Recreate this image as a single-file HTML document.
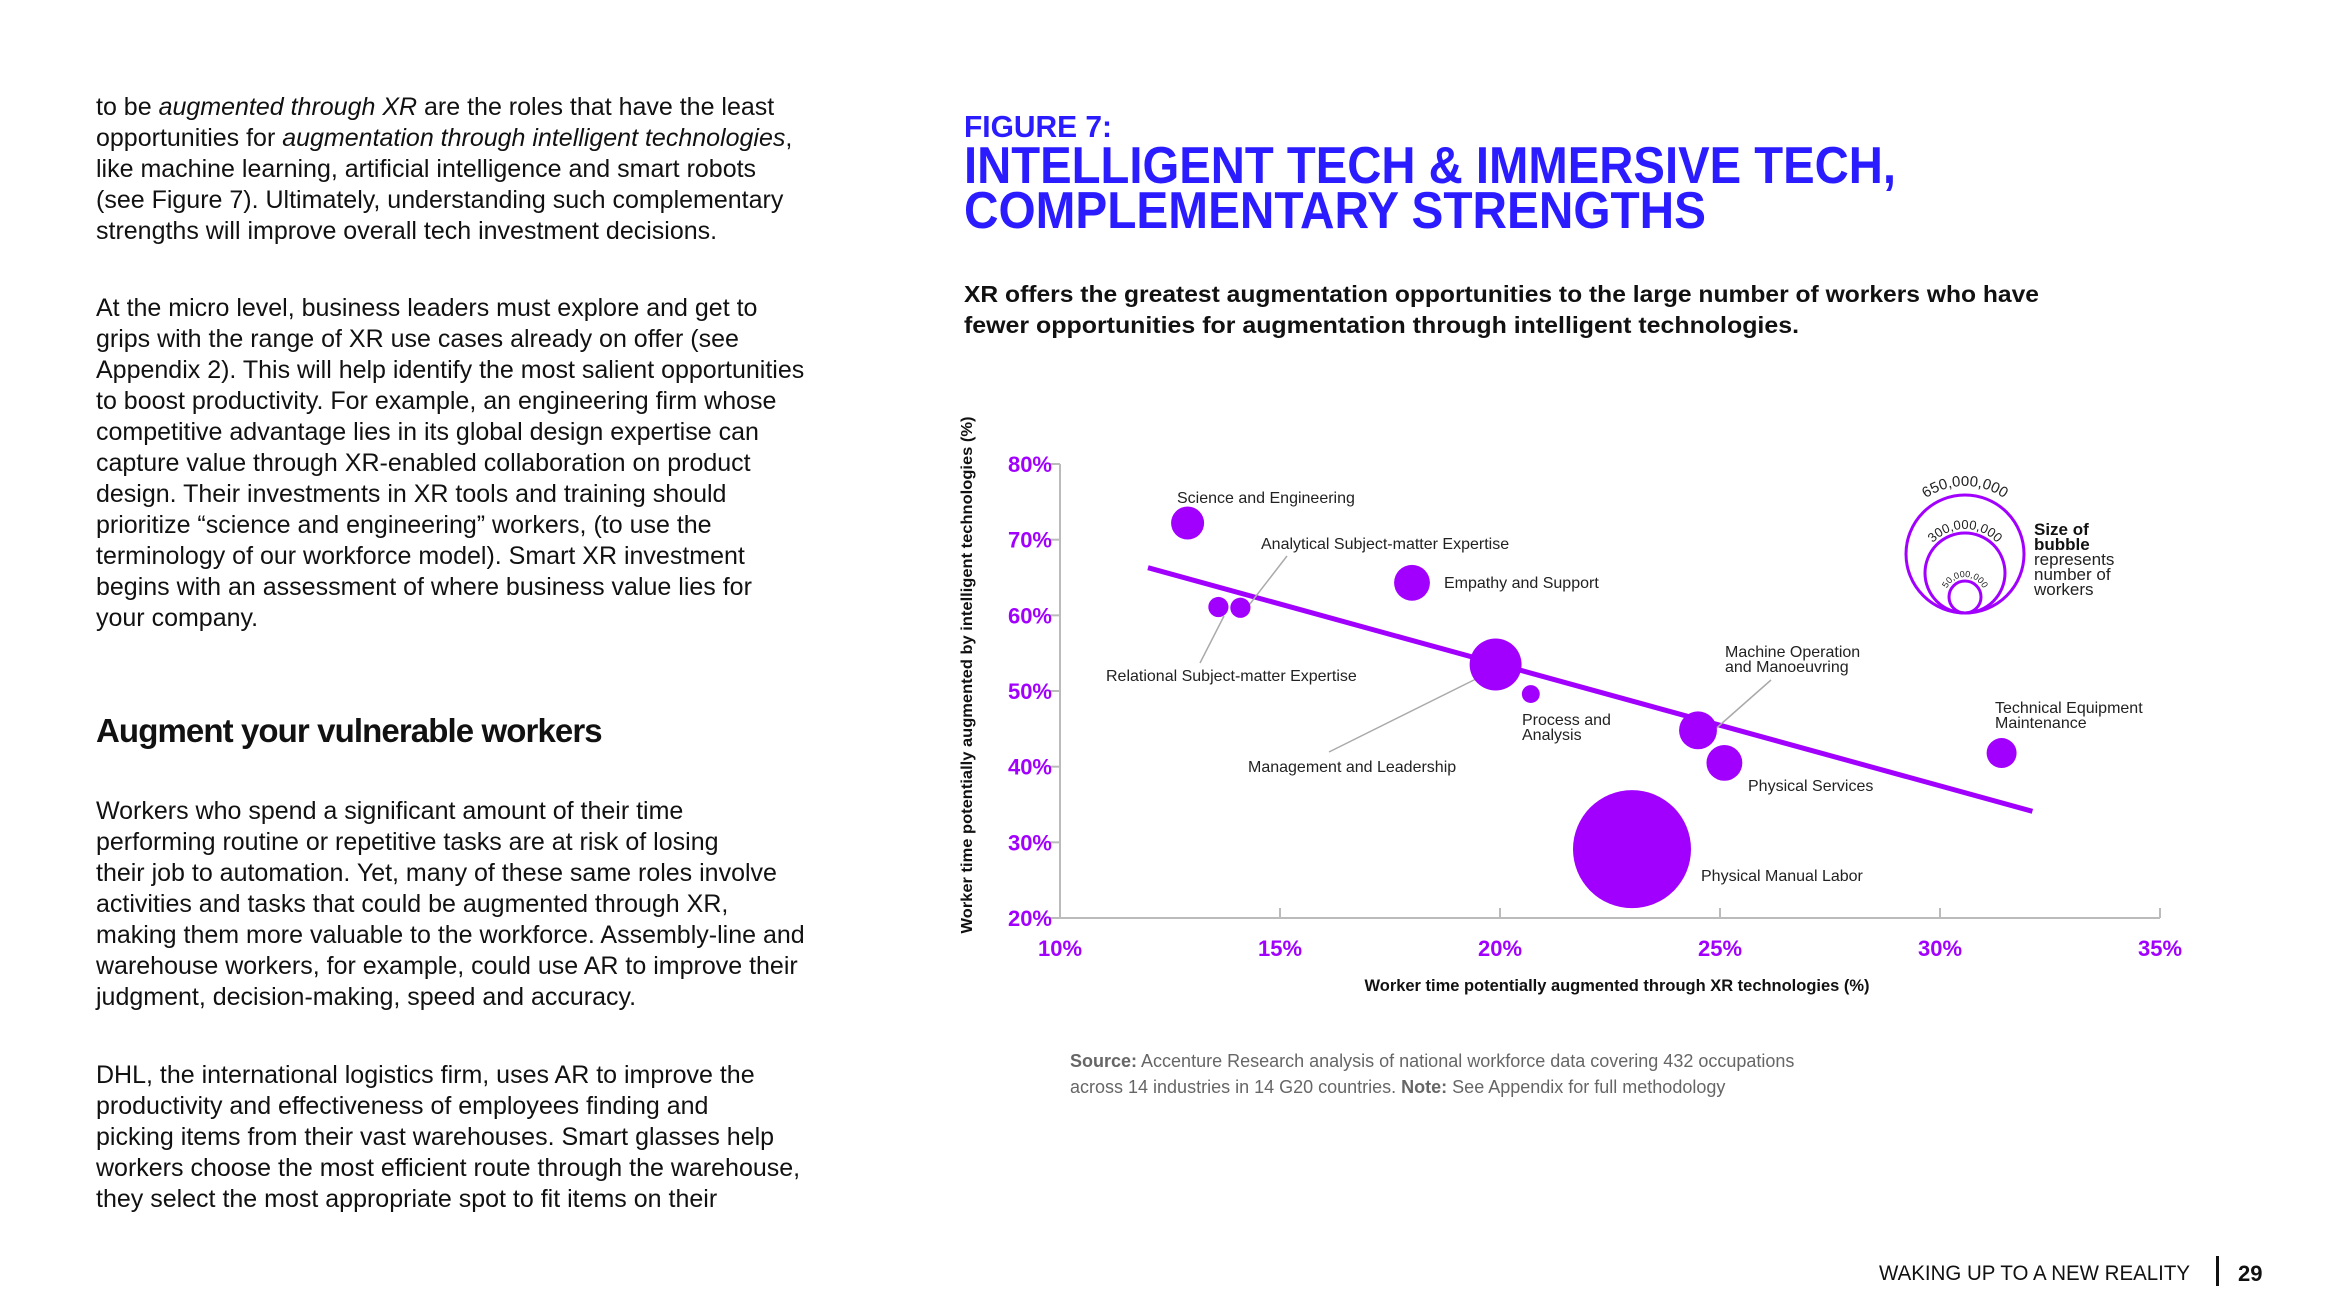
<!DOCTYPE html>
<html><head><meta charset="utf-8">
<style>
html,body{margin:0;padding:0;background:#fff;}
body{width:2339px;height:1315px;position:relative;overflow:hidden;font-family:"Liberation Sans",sans-serif;color:#111;}
.p{position:absolute;left:96px;font-size:25px;line-height:31px;letter-spacing:0px;white-space:nowrap;}
.h{position:absolute;left:96px;top:711px;font-size:33px;line-height:40px;font-weight:bold;letter-spacing:-0.9px;}
svg{position:absolute;left:0;top:0;}
</style></head>
<body>
<div class="p" style="top:92px">to be <i>augmented through XR</i> are the roles that have the least<br>opportunities for <i>augmentation through intelligent technologies</i>,<br>like machine learning, artificial intelligence and smart robots<br>(see Figure 7). Ultimately, understanding such complementary<br>strengths will improve overall tech investment decisions.</div>
<div class="p" style="top:293px">At the micro level, business leaders must explore and get to<br>grips with the range of XR use cases already on offer (see<br>Appendix 2). This will help identify the most salient opportunities<br>to boost productivity. For example, an engineering firm whose<br>competitive advantage lies in its global design expertise can<br>capture value through XR-enabled collaboration on product<br>design. Their investments in XR tools and training should<br>prioritize “science and engineering” workers, (to use the<br>terminology of our workforce model). Smart XR investment<br>begins with an assessment of where business value lies for<br>your company.</div>
<div class="h">Augment your vulnerable workers</div>
<div class="p" style="top:796px">Workers who spend a significant amount of their time<br>performing routine or repetitive tasks are at risk of losing<br>their job to automation. Yet, many of these same roles involve<br>activities and tasks that could be augmented through XR,<br>making them more valuable to the workforce. Assembly-line and<br>warehouse workers, for example, could use AR to improve their<br>judgment, decision-making, speed and accuracy.</div>
<div class="p" style="top:1060px">DHL, the international logistics firm, uses AR to improve the<br>productivity and effectiveness of employees finding and<br>picking items from their vast warehouses. Smart glasses help<br>workers choose the most efficient route through the warehouse,<br>they select the most appropriate spot to fit items on their</div>

<svg id="chart" width="2339" height="1315" xmlns="http://www.w3.org/2000/svg" font-family="Liberation Sans, sans-serif">
<defs>
<path id="arc650" d="M1897,554 a68,68 0 0 1 136,0" fill="none"/>
<path id="arc300" d="M1921,573 a44,44 0 0 1 88,0" fill="none"/>
<path id="arc50" d="M1945,597 a20,20 0 0 1 40,0" fill="none"/>
</defs>
<text x="964" y="137" font-size="31" font-weight="bold" fill="#2a1cff" textLength="148" lengthAdjust="spacingAndGlyphs">FIGURE 7:</text>
<text x="964" y="183" font-size="52" font-weight="bold" fill="#2a1cff" textLength="932" lengthAdjust="spacingAndGlyphs">INTELLIGENT TECH &amp; IMMERSIVE TECH,</text>
<text x="964" y="228" font-size="52" font-weight="bold" fill="#2a1cff" textLength="742" lengthAdjust="spacingAndGlyphs">COMPLEMENTARY STRENGTHS</text>
<text x="964" y="302" font-size="23" font-weight="bold" fill="#111" textLength="1075" lengthAdjust="spacingAndGlyphs">XR offers the greatest augmentation opportunities to the large number of workers who have</text>
<text x="964" y="333" font-size="23" font-weight="bold" fill="#111" textLength="835" lengthAdjust="spacingAndGlyphs">fewer opportunities for augmentation through intelligent technologies.</text>
<g id="plot"></g>
<g>
<circle cx="1965" cy="554" r="59" fill="none" stroke="#a100ff" stroke-width="3"/>
<circle cx="1965" cy="573" r="40" fill="none" stroke="#a100ff" stroke-width="3"/>
<circle cx="1965" cy="597" r="16" fill="none" stroke="#a100ff" stroke-width="3"/>
<text font-size="15" fill="#222"><textPath href="#arc650" startOffset="50%" text-anchor="middle">650,000,000</textPath></text>
<text font-size="13" fill="#222"><textPath href="#arc300" startOffset="50%" text-anchor="middle">300,000,000</textPath></text>
<text font-size="9" fill="#222"><textPath href="#arc50" startOffset="50%" text-anchor="middle">50,000,000</textPath></text>
<text x="2034" y="535" font-size="17" font-weight="bold" fill="#111"><tspan x="2034">Size of</tspan><tspan x="2034" dy="15">bubble</tspan></text>
<text x="2034" y="565" font-size="17" fill="#222"><tspan x="2034">represents</tspan><tspan x="2034" dy="15">number of</tspan><tspan x="2034" dy="15">workers</tspan></text>
</g>
<text x="1070" y="1067" font-size="18" fill="#666"><tspan font-weight="bold">Source:</tspan> Accenture Research analysis of national workforce data covering 432 occupations</text>
<text x="1070" y="1093" font-size="18" fill="#666">across 14 industries in 14 G20 countries. <tspan font-weight="bold">Note:</tspan> See Appendix for full methodology</text>
<text x="1879" y="1280" font-size="21" fill="#111" textLength="311" lengthAdjust="spacingAndGlyphs">WAKING UP TO A NEW REALITY</text>
<rect x="2216" y="1256" width="3" height="30" fill="#111"/>
<text x="2238" y="1281" font-size="22" font-weight="bold" fill="#111">29</text>
</svg>

<script>
const categories = ["Science and Engineering","Relational Subject-matter Expertise","Analytical Subject-matter Expertise","Empathy and Support","Management and Leadership","Process and Analysis","Machine Operation and Manoeuvring","Physical Services","Physical Manual Labor","Technical Equipment Maintenance"];
const xrValues = [12.9,13.6,14.1,18.0,19.9,20.7,24.5,25.1,23.0,31.4];
const aiValues = [72.2,61.1,61.0,64.3,53.5,49.6,44.8,40.5,29.1,41.8];
const workersMillions = [51,19,19,60,126,15,67,60,650,42];
const xTicks = [10,15,20,25,30,35];
const yTicks = [20,30,40,50,60,70,80];
const trendX = [12.0,32.1];
const trendY = [66.3,34.1];

const NS = "http://www.w3.org/2000/svg";
const g = document.getElementById('plot');
const X0=1060, X1=2160, Y0=918, Y1=464;
const xs = v => X0 + (v-10)/25*(X1-X0);
const ys = v => Y0 - (v-20)/60*(Y0-Y1);
const rs = w => 59*Math.sqrt(w/650);
function mk(tag, attrs){const e=document.createElementNS(NS,tag);for(const k in attrs)e.setAttribute(k,attrs[k]);g.appendChild(e);return e;}

let e;
e = mk('line',{x1:X0,y1:Y1,x2:X0,y2:Y0,stroke:'#bbb','stroke-width':2});


e = mk('line',{x1:X0,y1:Y0,x2:X1,y2:Y0,stroke:'#bbb','stroke-width':2});



yTicks.forEach(t=>{
  const l = mk('line',{x1:X0-10,y1:ys(t),x2:X0,y2:ys(t),stroke:'#bbb','stroke-width':2});
  
  
  const tx = mk('text',{x:1052,y:ys(t)+8,'font-size':22,'font-weight':'bold',fill:'#a100ff','text-anchor':'end'});
  tx.textContent = t+'%';
  
  
});
xTicks.forEach(t=>{
  const l = mk('line',{x1:xs(t),y1:Y0-10,x2:xs(t),y2:Y0,stroke:'#bbb','stroke-width':2});
  
  
  const tx = mk('text',{x:xs(t),y:956,'font-size':22,'font-weight':'bold',fill:'#a100ff','text-anchor':'middle'});
  tx.textContent = t+'%';
  
  
});

e = mk('text',{x:1617,y:991,'font-size':17,'font-weight':'bold',fill:'#111','text-anchor':'middle',textLength:505,lengthAdjust:'spacingAndGlyphs'});
e.textContent='Worker time potentially augmented through XR technologies (%)';


e = mk('text',{x:0,y:0,'font-size':16,'font-weight':'bold',fill:'#111','text-anchor':'middle',textLength:517,lengthAdjust:'spacingAndGlyphs',transform:'translate(972,675) rotate(-90)'});
e.textContent='Worker time potentially augmented by intelligent technologies (%)';



e = mk('line',{x1:xs(trendX[0]),y1:ys(trendY[0]),x2:xs(trendX[1]),y2:ys(trendY[1]),stroke:'#a100ff','stroke-width':5});



[[1287,556,1246,609],[1200,663,1224,616],[1329,752,1486,674],[1771,680,1712,732]].forEach(c=>{
  const l = mk('line',{x1:c[0],y1:c[1],x2:c[2],y2:c[3],stroke:'#aaa','stroke-width':1.5});
  
  
});

categories.forEach((c,i)=>{
  const b = mk('circle',{cx:xs(xrValues[i]),cy:ys(aiValues[i]),r:rs(workersMillions[i]),fill:'#a100ff'});
  
  
});

const labels = [
 [["Science and Engineering"],1177,503],
 [["Relational Subject-matter Expertise"],1106,681],
 [["Analytical Subject-matter Expertise"],1261,549],
 [["Empathy and Support"],1444,588],
 [["Management and Leadership"],1248,772],
 [["Process and","Analysis"],1522,725],
 [["Machine Operation","and Manoeuvring"],1725,657],
 [["Physical Services"],1748,791],
 [["Physical Manual Labor"],1701,881],
 [["Technical Equipment","Maintenance"],1995,713]
];
labels.forEach(L=>{
  const t = mk('text',{x:L[1],y:L[2],'font-size':16,fill:'#222'});
  L[0].forEach((s,j)=>{const sp=document.createElementNS(NS,'tspan');sp.setAttribute('x',L[1]);if(j)sp.setAttribute('dy',15);sp.textContent=s;t.appendChild(sp);});
  
  
});
</script>
</body></html>
